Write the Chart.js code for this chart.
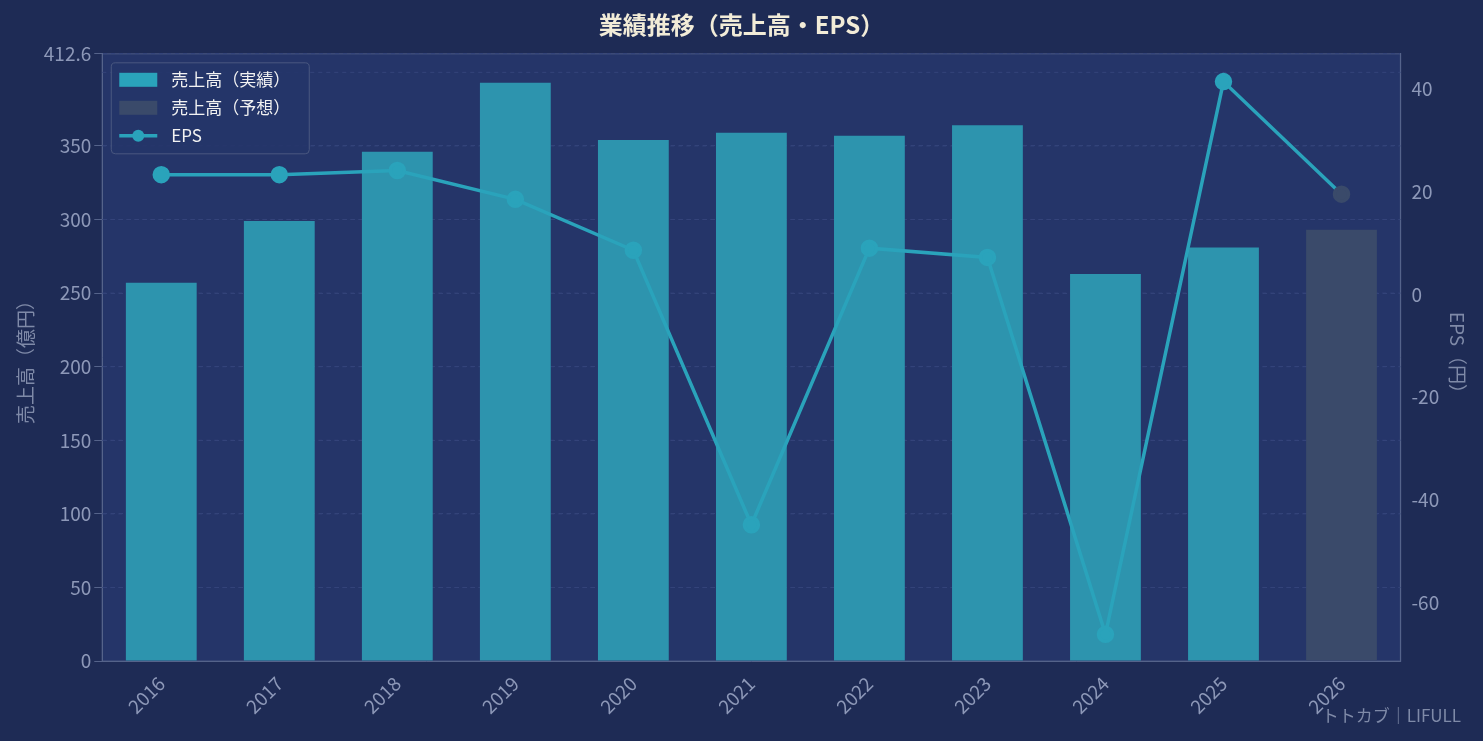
<!DOCTYPE html>
<html><head><meta charset="utf-8">
<script src="https://cdn.jsdelivr.net/npm/chart.js@4"></script>
<style>html,body{margin:0;background:#1e2b55;}#w{position:relative;width:1483px;height:741px;}
#wm{position:absolute;right:22px;bottom:14px;color:#7f8aa8;font:17px "Noto Sans CJK JP";}</style>
</head><body><div id="w"><canvas id="c" width="1483" height="741"></canvas><div id="wm">トトカブ｜LIFULL</div></div>
<script>
const years=['2016','2017','2018','2019','2020','2021','2022','2023','2024','2025','2026'];
const salesActual=[257,299,346,393,354,359,357,364,263,281,null];
const salesForecast=[null,null,null,null,null,null,null,null,null,null,293];
const eps=[23.3,23.3,24.1,18.5,8.6,-44.8,9.0,7.2,-66.1,41.4,19.5];
const font='"Noto Sans CJK JP"';
const bgPlugin={id:'bg',beforeDraw(ch){const a=ch.chartArea,c=ch.ctx;c.save();c.fillStyle='#253569';c.fillRect(a.left,a.top,a.right-a.left,a.bottom-a.top);c.strokeStyle='#3e4d7a';c.lineWidth=1.5;c.strokeRect(a.left,a.top,a.right-a.left,a.bottom-a.top);c.restore();}};
new Chart(document.getElementById('c'),{
 data:{labels:years,datasets:[
  {type:'line',label:'EPS',data:eps,yAxisID:'y1',borderColor:'#2aa3bb',backgroundColor:'#2aa3bb',borderWidth:3.5,pointRadius:7,pointHoverRadius:7,
   pointBackgroundColor:eps.map((v,i)=>i===10?'#3a4a6a':'#2aa3bb'),pointBorderColor:eps.map((v,i)=>i===10?'#3a4a6a':'#2aa3bb'),order:0},
  {type:'bar',label:'売上高（実績）',data:salesActual,backgroundColor:'#2d94ae',yAxisID:'y',barPercentage:0.6,categoryPercentage:1,grouped:false,order:1},
  {type:'bar',label:'売上高（予想）',data:salesForecast,backgroundColor:'#3a4a6a',yAxisID:'y',barPercentage:0.6,categoryPercentage:1,grouped:false,order:1}
 ]},
 options:{responsive:false,animation:false,devicePixelRatio:1,
  layout:{padding:{left:10,right:10,top:0,bottom:20}},
  plugins:{title:{display:true,text:'業績推移（売上高・EPS）',color:'#f2ecd8',font:{family:font,size:24,weight:'bold'},padding:{top:10,bottom:15}},
   legend:{display:false}},
  scales:{
   x:{grid:{display:false},border:{color:'#55638a'},ticks:{color:'#8d98b8',font:{family:font,size:19},maxRotation:45,minRotation:45}},
   y:{position:'left',min:0,max:412.6,ticks:{stepSize:50,color:'#8d98b8',font:{family:font,size:19}},
      grid:{color:'#34447a',tickColor:'#55638a',lineWidth:1},border:{dash:[4,4],color:'#55638a'},
      title:{display:true,text:'売上高（億円）',color:'#7f8aa8',font:{family:font,size:19}}},
   y1:{position:'right',min:-71.3,max:46.8,ticks:{stepSize:20,color:'#8d98b8',font:{family:font,size:19},callback:v=>v%20===0?v:''},
      grid:{display:false},border:{color:'#55638a'},
      title:{display:true,text:'EPS（円）',color:'#7f8aa8',font:{family:font,size:19}}}
  }},
 plugins:[bgPlugin,{id:'leg',afterDraw(ch){const c=ch.ctx,a=ch.chartArea;const x=a.left+9,y=a.top+9;c.save();
  c.fillStyle='rgba(37,53,105,0.9)';c.strokeStyle='#4a5880';c.lineWidth=1;c.beginPath();c.roundRect(x,y,198,91,4);c.fill();c.stroke();
  c.font='17px '+font;c.textBaseline='middle';c.fillStyle='#f2f2f2';
  const items=[['売上高（実績）','#2aa3bb','bar'],['売上高（予想）','#3a4a6a','bar'],['EPS','#2aa3bb','line']];
  items.forEach((it,i)=>{const yy=y+17+i*28;if(it[2]==='bar'){c.fillStyle=it[1];c.fillRect(x+8,yy-7,38,14);}else{c.strokeStyle=it[1];c.lineWidth=3.5;c.beginPath();c.moveTo(x+8,yy);c.lineTo(x+46,yy);c.stroke();c.fillStyle=it[1];c.beginPath();c.arc(x+27,yy,6,0,7);c.fill();}
   c.fillStyle='#f2f2f2';c.fillText(it[0],x+60,yy);});c.restore();}},
  {id:'grid',beforeDatasetsDraw(ch){const s=ch.scales.y,a=ch.chartArea,c=ch.ctx;c.save();c.setLineDash([4,4]);c.strokeStyle='#34447a';c.lineWidth=1;
   for(let v=50;v<=400;v+=50){const yy=s.getPixelForValue(v);c.beginPath();c.moveTo(a.left,yy);c.lineTo(a.right,yy);c.stroke();}c.restore();}}]
});
</script></body></html>
